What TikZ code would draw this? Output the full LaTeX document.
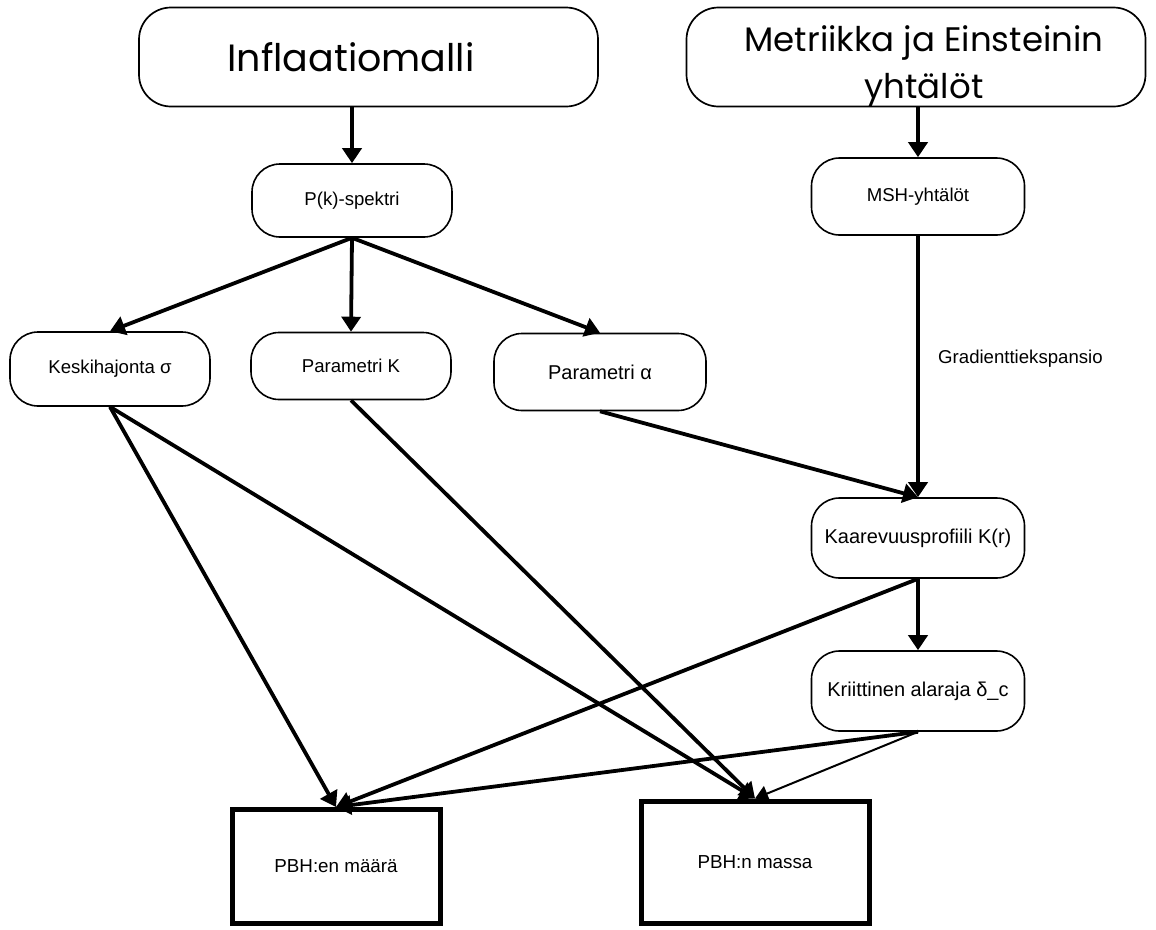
\documentclass[tikz,border=0pt]{standalone}
\usepackage{fontspec}
\setmainfont{Liberation Sans}
\newfontfamily\titlefont{Poppins}
\usetikzlibrary{arrows.meta}

\begin{document}
\begin{tikzpicture}[x=1pt,y=-1pt,
  titlebox/.style={draw, line width=1.7pt, rounded corners=32pt, minimum width=459pt, minimum height=99pt},
  titletext/.style={font=\titlefont\fontsize{38}{47}\selectfont, align=center},
  stage/.style={draw, line width=1.6pt, rounded corners=28pt, minimum width=200pt, minimum height=74pt, font=\fontsize{18.6}{22}\selectfont},
  bigstage/.style={stage, minimum width=213pt, minimum height=79pt, font=\fontsize{20}{24}\selectfont},
  result/.style={draw, line width=5pt, font=\fontsize{18.8}{22}\selectfont},
  flow/.style={-{Triangle[width=19pt,length=15pt]}, line width=3.8pt},
  thinflow/.style={-{Triangle[width=16pt,length=13pt]}, line width=2pt}]
  \useasboundingbox (0,0) rectangle (1156,929);

  \node [titlebox] (infl) at (368.5,57) {};
  \node [titletext] (infltext) at (351,57) {Inflaatiomalli};
  \node [titlebox] (metr) at (916,57) {};
  \node [titletext, font=\titlefont\fontsize{34}{47}\selectfont] (metrtext) at (924,66) {Metriikka ja Einsteinin\\yhtälöt};

  \node [stage, minimum height=73pt] (spek) at (352,200.5) {P(k)-spektri};
  \node [stage, minimum width=213pt, minimum height=77pt] (msh) at (918,196.5) {MSH-yhtälöt};

  \node [stage] (sigma) at (110,369) {Keskihajonta σ};
  \node [stage, minimum height=67pt] (parK) at (351,366) {Parametri K};
  \node [bigstage, minimum width=212pt, minimum height=77pt] (alpha) at (600,372) {Parametri α};

  \node [bigstage, minimum height=80pt] (kaar) at (918,538) {Kaarevuusprofiili K(r)};
  \node [bigstage, minimum height=80pt] (krit) at (918,691) {Kriittinen alaraja δ\_c};

  \node [result, minimum width=208pt, minimum height=114pt] (maara) at (336,866.5) {PBH:en määrä};
  \node [result, minimum width=228pt, minimum height=122pt] (massa) at (755,862) {PBH:n massa};

  \draw [flow] (spek |- infl.south) -- (spek);
  \draw [flow] (msh |- metr.south) -- (msh);

  \draw [flow] (spek.south) -- (sigma.north);
  \draw [flow] (spek.south) -- (parK.north);
  \draw [flow] (spek.south) -- (alpha.north);

  \draw [flow] (msh) -- node[pos=0.47, right=15pt] {\fontsize{18.6}{22}\selectfont Gradienttiekspansio} (kaar);
  \draw [flow] (alpha.south) -- (kaar.north);
  \draw [flow] (kaar) -- (krit);

  \draw [flow] (sigma.south) -- (maara.north);
  \draw [flow] (sigma.south) -- (massa.north);
  \draw [flow] (parK.south) -- (massa.north);
  \draw [flow] (kaar.south) -- (maara.north);
  \draw [flow] (krit.south) -- (maara.north);
  \draw [thinflow] (krit.south) -- (massa.north);
\end{tikzpicture}
\end{document}
